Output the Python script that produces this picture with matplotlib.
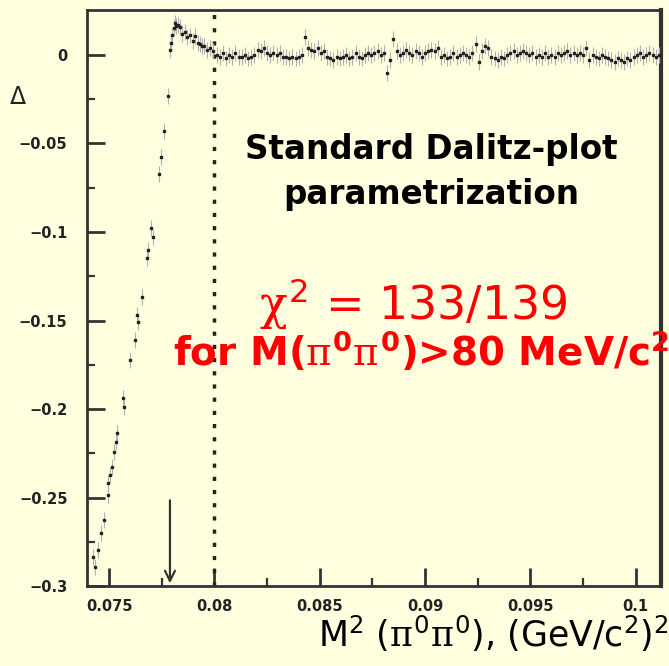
import matplotlib.pyplot as plt
import numpy as np

plt.rcParams['mathtext.fontset'] = 'custom'
plt.rcParams['mathtext.rm'] = 'DejaVu Sans'
plt.rcParams['mathtext.it'] = 'DejaVu Serif'
plt.rcParams['mathtext.bf'] = 'DejaVu Sans:bold'

# rising edge near threshold
rise_x = [0.07426, 0.07434, 0.07449, 0.07462, 0.07478, 0.07494, 0.07497, 0.07505,
          0.07513, 0.07525, 0.07532, 0.07539, 0.07568, 0.07573, 0.07600, 0.07623,
          0.07631, 0.07636, 0.07658, 0.07679, 0.07686, 0.07699, 0.07710, 0.07737,
          0.07747, 0.07762, 0.07781, 0.07788, 0.07794, 0.07800, 0.07807, 0.07813,
          0.07820, 0.07828, 0.07837, 0.07848, 0.07861, 0.07872, 0.07885, 0.07896,
          0.07908, 0.07920, 0.07930, 0.07940]
rise_y = [-0.2834, -0.2891, -0.2797, -0.2702, -0.2627, -0.2486, -0.2420, -0.2373,
          -0.2326, -0.2241, -0.2185, -0.2137, -0.1940, -0.1987, -0.1723, -0.1610,
          -0.1469, -0.1507, -0.1366, -0.1147, -0.1102, -0.0977, -0.1027, -0.0672,
          -0.0575, -0.0429, -0.0232, 0.0030, 0.0068, 0.0113, 0.0150, 0.0179,
          0.0165, 0.0170, 0.0160, 0.0120, 0.0132, 0.0100, 0.0110, 0.0080,
          0.0105, 0.0070, 0.0060, 0.0050]

# flat region, bins of 0.00015 starting at 0.0795, values in units of 1e-3
flat_start = 0.0795
flat_step = 0.00015
flat_vals = [5, 3, 4, 2,
             0, -1, 1, -2, 0, -1, 1, -1,
             -1, 0, -2, -1, 0,
             3, 2, 4,
             1, 0, 1, 0, 1, -1,
             -1, -2, -1, -2, -1, 0,
             10, 4,
             3, 2, 4, 1, 2,
             -1, -2, -3, -1, -2, -1,
             0, -2, -1, 1, -1, -2, 0, 1,
             0, 1, 2, 0, 1,
             -10, -3, 9,
             2, 0, 1, 3, 1, 0, 2, 1, -1, 1, 2,
             3, 2, 4,
             -1, 0, -2, -1, 1, -1,
             0, 1, 0, -1, 1, 6,
             -4, 2, 5, 4,
             -1, -2, -3, -1, -2, 0,
             1, 2, 0, 1, 2, 1, 0, 1,
             -1, 0, -1, 1, -1, 0, -1,
             1, 0, 1, 2, 0, 1, 0, 1, 0, 4,
             -3, 0,
             -1, -2, 0, -1, -2,
             -3, -4, -2, -3, -4, -2, -3, -1,
             0, 1, -1, 0, 1, 0, -1, 0]
err = 0.0045

x_cut = 0.080
arrow_x = 0.07789

flat_x = flat_start + flat_step * np.arange(len(flat_vals))
flat_y = np.array(flat_vals) * 1e-3

bg = '#FFFFE0'
fig = plt.figure(figsize=(6.69, 6.66), dpi=100, facecolor=bg)
ax = fig.add_axes([0.130, 0.120, 0.858, 0.865])
ax.set_facecolor(bg)

for xs, ys in ((rise_x, rise_y), (flat_x, flat_y)):
    ax.errorbar(xs, ys, yerr=err, fmt='s', color='#222222', markersize=1.8,
                ecolor='#b0b0b0', elinewidth=0.8, capsize=0, zorder=3)

ax.axvline(x_cut, color='#222222', linestyle=(0, (1.2, 2.6)), linewidth=2.5, zorder=2)
ax.annotate('', xy=(arrow_x, -0.3), xytext=(arrow_x, -0.25),
            arrowprops=dict(arrowstyle='->', color='#333333', lw=1.6, mutation_scale=18))

ax.set_xlim(0.07395, 0.1012)
ax.set_ylim(-0.3, 0.0254)
ax.set_xticks([0.075, 0.08, 0.085, 0.09, 0.095, 0.1])
ax.set_xticklabels(['0.075', '0.08', '0.085', '0.09', '0.095', '0.1'])
ax.set_xticks([0.0775, 0.0825, 0.0875, 0.0925, 0.0975], minor=True)
ax.set_yticks([0, -0.05, -0.1, -0.15, -0.2, -0.25, -0.3])
ax.set_yticklabels(['0', '\u22120.05', '\u22120.1', '\u22120.15', '\u22120.2', '\u22120.25', '\u22120.3'])
ax.set_yticks([-0.025, -0.075, -0.125, -0.175, -0.225, -0.275], minor=True)
ax.tick_params(which='major', direction='in', length=13, width=2, color='#333333',
               labelsize=10.5, labelcolor='#222222', top=False, right=False)
ax.tick_params(which='minor', direction='in', length=6, width=1.6, color='#333333',
               top=False, right=False)
ax.tick_params(axis='x', pad=9)
ax.tick_params(axis='y', pad=14)
for lab in ax.get_xticklabels() + ax.get_yticklabels():
    lab.set_fontweight('bold')
for s in ax.spines.values():
    s.set_color('#333333')
    s.set_linewidth(2)
ax.spines['right'].set_linewidth(3)

fig.text(0.027, 0.855, r'$\Delta$', fontsize=17, color='#222222', ha='center', va='center')
fig.text(0.999, 0.028, r'M$^2$ ($\pi^0\pi^0$), (GeV/c$^2$)$^2$', fontsize=25,
         ha='right', va='baseline', color='black')

fig.text(0.645, 0.742, 'Standard Dalitz-plot\nparametrization',
         fontsize=23.5, fontweight='bold', ha='center', va='center', linespacing=1.45)
fig.text(0.617, 0.522, r'$\chi^2$ = 133/139', fontsize=33, color='red',
         ha='center', va='baseline')
fig.text(0.259, 0.452, r'for M($\pi^{\mathbf{0}}\pi^{\mathbf{0}}$)>80 MeV/c$^{\mathbf{2}}$',
         fontsize=28, fontweight='bold', color='red', ha='left', va='baseline')

fig.savefig('out.png', dpi=100, facecolor=bg)
